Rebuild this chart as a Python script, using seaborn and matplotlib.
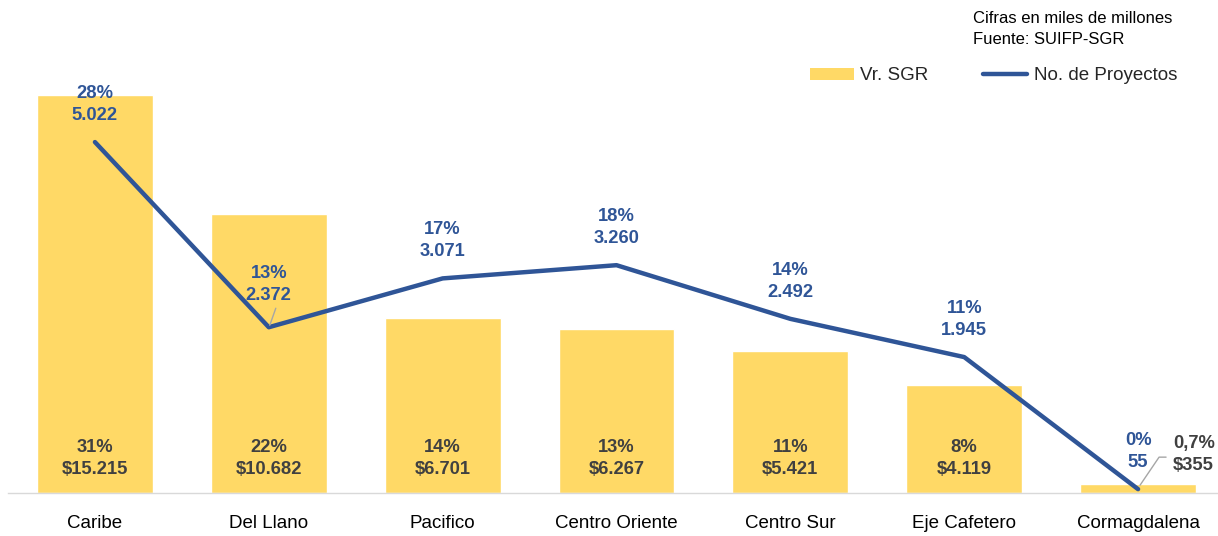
import matplotlib
matplotlib.use("Agg")
import matplotlib.pyplot as plt
from matplotlib.lines import Line2D
from matplotlib.patches import Patch
from matplotlib import font_manager
import seaborn as sns

categories = ["Caribe", "Del Llano", "Pacifico", "Centro Oriente", "Centro Sur", "Eje Cafetero", "Cormagdalena"]
vr_sgr = [15215, 10682, 6701, 6267, 5421, 4119, 355]
vr_labels = ["31%\n$15.215", "22%\n$10.682", "14%\n$6.701", "13%\n$6.267", "11%\n$5.421", "8%\n$4.119", "0,7%\n$355"]
proyectos = [5022, 2372, 3071, 3260, 2492, 1945, 55]
proy_labels = ["28%\n5.022", "13%\n2.372", "17%\n3.071", "18%\n3.260", "14%\n2.492", "11%\n1.945", "0%\n55"]

sns.set_theme(style="white")
names = {f.name for f in font_manager.fontManager.ttflist}
narrow = "Liberation Sans Narrow" if "Liberation Sans Narrow" in names else "Liberation Sans"
plt.rcParams["font.family"] = ["Liberation Sans", "DejaVu Sans"]

YELLOW = "#FFD966"
BLUE = "#2F5597"
GRAY = "#404040"
LAB_FS = 13.2

W, H = 1218, 536
fig = plt.figure(figsize=(W / 100, H / 100), dpi=100)
ax = fig.add_axes([8 / W, 43 / H, 1217 / W, (493 - 60) / H])

sns.barplot(x=categories, y=vr_sgr, color=YELLOW, width=0.667, saturation=1, ax=ax, zorder=1)
ax.set_xlim(-0.5, 6.5)
ax.set_ylim(0, 433 * 38.23)

ax2 = ax.twinx()
sns.lineplot(x=categories, y=proyectos, color=BLUE, linewidth=3.2, ax=ax2, sort=False, zorder=3)
for l in ax2.get_lines():
    l.set_solid_capstyle("round")
    l.set_solid_joinstyle("round")
ax2.set_ylim(0, 433 * 14.31)

for a in (ax, ax2):
    a.set_yticks([])
    a.set_ylabel("")
    a.set_xlabel("")
    for s in ("top", "left", "right", "bottom"):
        a.spines[s].set_visible(False)
ax.spines["bottom"].set_visible(True)
ax.spines["bottom"].set_color("#D9D9D9")
ax.spines["bottom"].set_linewidth(1.0)
ax.tick_params(axis="x", length=0, pad=16, labelsize=13.5, labelcolor="black")
ax2.tick_params(axis="x", length=0)

# bar labels
for i, (v, lab) in enumerate(zip(vr_sgr, vr_labels)):
    if i == len(vr_sgr) - 1:
        ax.annotate(lab, xy=(categories[i], 0), xytext=(25, 14), textcoords="offset points",
                    ha="left", va="bottom", fontsize=LAB_FS, fontweight="bold", color=GRAY,
                    family=[narrow, "DejaVu Sans"], linespacing=1.38)
        pt = ax2.transData.transform((i, proyectos[i]))
        xs = [pt[0] + 2, pt[0] + 21, pt[0] + 28]
        ys = [pt[1] + 4, pt[1] + 32, pt[1] + 32]
        fig.add_artist(Line2D([x / W for x in xs], [y / H for y in ys], color="#A6A6A6",
                              linewidth=1.0, transform=fig.transFigure, zorder=5))
    else:
        ax.annotate(lab, xy=(categories[i], 0), xytext=(0, 11), textcoords="offset points",
                    ha="center", va="bottom", fontsize=LAB_FS, fontweight="bold", color=GRAY,
                    family=[narrow, "DejaVu Sans"], linespacing=1.38)

# line labels
for i, (v, lab) in enumerate(zip(proyectos, proy_labels)):
    dy = 17 if i == 1 else 13
    ax2.annotate(lab, xy=(categories[i], v), xytext=(0, dy), textcoords="offset points",
                 ha="center", va="bottom", fontsize=LAB_FS, fontweight="bold", color=BLUE,
                 family=[narrow, "DejaVu Sans"], linespacing=1.38, zorder=6)

# small leader for Del Llano
pt = ax2.transData.transform((1, proyectos[1]))
fig.add_artist(Line2D([(pt[0] + 1) / W, (pt[0] + 7) / W], [(pt[1] + 2) / H, (pt[1] + 19) / H],
                      color="#A6A6A6", linewidth=1.0, transform=fig.transFigure, zorder=5))

# legend
handles = [Patch(facecolor=YELLOW, edgecolor="none", label="Vr. SGR"),
           Line2D([0], [0], color=BLUE, linewidth=3.2, solid_capstyle="round", label="No. de Proyectos")]
fig.legend(handles=handles, loc="center right", bbox_to_anchor=(1177 / W, 1 - 76 / H), ncol=2,
           frameon=False, fontsize=13.5, handlelength=2.35, handleheight=0.6, handletextpad=0.35,
           columnspacing=2.9, borderpad=0, borderaxespad=0)

fig.text(973 / W, 1 - 11 / H, "Cifras en miles de millones\nFuente: SUIFP-SGR", ha="left", va="top",
         fontsize=12, color="black", linespacing=1.5)

fig.savefig("out.png", dpi=100)
